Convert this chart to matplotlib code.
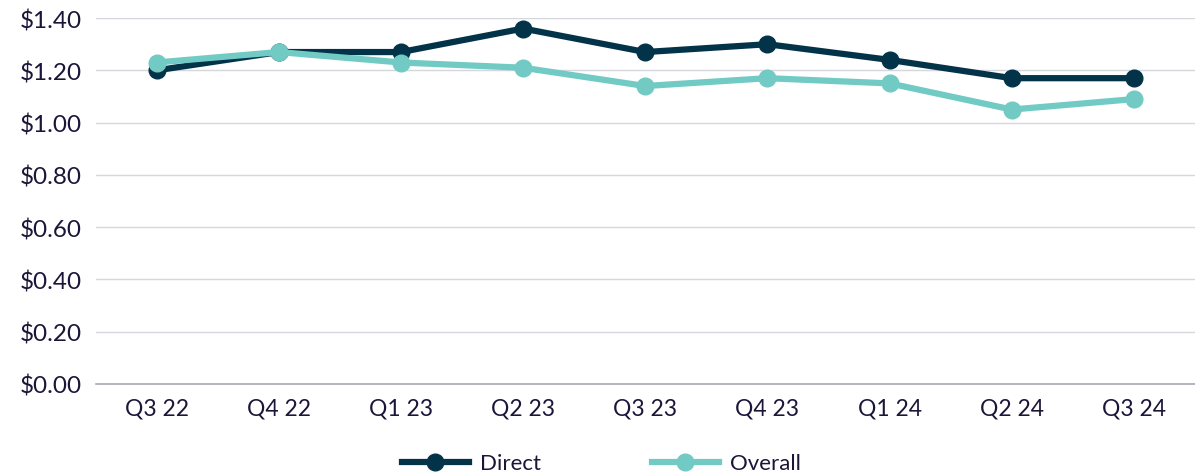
import matplotlib.pyplot as plt
from matplotlib.ticker import FuncFormatter

# ── Datos ─────────────────────────────────────────────────────────────────────
quarters = ['Q3 22', 'Q4 22', 'Q1 23', 'Q2 23', 'Q3 23', 'Q4 23', 'Q1 24', 'Q2 24', 'Q3 24']
direct   = [1.20, 1.27, 1.27, 1.36, 1.27, 1.30, 1.24, 1.17, 1.17]
overall  = [1.23, 1.27, 1.23, 1.21, 1.14, 1.17, 1.15, 1.05, 1.09]

TEXT = '#1c1538'
plt.rcParams['font.family'] = ['Lato', 'DejaVu Sans']

# ── Figura ────────────────────────────────────────────────────────────────────
fig = plt.figure(figsize=(11.95, 4.77), dpi=100)
ax = fig.add_axes([0.080, 0.193, 0.920, 0.767])

x = range(len(quarters))
ax.plot(x, direct, color='#033349', linewidth=4.5, marker='o', markersize=12,
        label='Direct', zorder=3)
ax.plot(x, overall, color='#71cbc4', linewidth=4.5, marker='o', markersize=12,
        label='Overall', zorder=4)

ax.set_xlim(-0.5, len(quarters) - 0.5)
ax.set_ylim(0, 1.4)
ax.set_yticks([0, 0.2, 0.4, 0.6, 0.8, 1.0, 1.2, 1.4])
ax.yaxis.set_major_formatter(FuncFormatter(lambda v, _: f'${v:.2f}'))
ax.set_xticks(list(x))
ax.set_xticklabels(quarters)

ax.grid(axis='y', color='#d6d6dd', linewidth=1)
ax.set_axisbelow(True)
for s in ['top', 'right', 'left']:
    ax.spines[s].set_visible(False)
ax.spines['bottom'].set_color('#a8a8b6')
ax.spines['bottom'].set_linewidth(1.2)
ax.tick_params(axis='both', length=0, colors=TEXT)
ax.tick_params(axis='y', labelsize=17.5, pad=10)
ax.tick_params(axis='x', labelsize=16.5, pad=10)

ax.legend(loc='upper center', bbox_to_anchor=(0.46, -0.135), ncol=2, frameon=False,
          fontsize=16, handlelength=3.0, columnspacing=5.0, handletextpad=0.5,
          labelcolor=TEXT)

plt.savefig('out.png', dpi=100)
